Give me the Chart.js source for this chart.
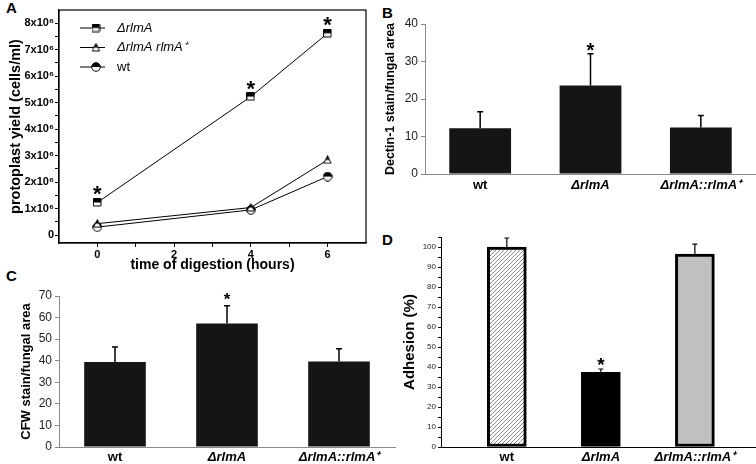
<!DOCTYPE html>
<html>
<head>
<meta charset="utf-8">
<script src="https://cdn.jsdelivr.net/npm/chart.js@4.4.0/dist/chart.umd.min.js"></script>
<style>
body { margin: 0; width: 756px; height: 464px; background: #fff; position: relative; overflow: hidden; font-family: "Liberation Sans", Arial, sans-serif; }
canvas { position: absolute; }
.panel { position: absolute; font-weight: bold; font-size: 15px; line-height: 15px; }
</style>
</head>
<body>
<div class="panel" style="left:6px;top:0px">A</div>
<div class="panel" style="left:382px;top:5px">B</div>
<div class="panel" style="left:6px;top:268px">C</div>
<div class="panel" style="left:382px;top:232px">D</div>
<canvas id="chartA" width="380" height="275" style="left:0;top:0"></canvas>
<canvas id="chartB" width="376" height="215" style="left:380px;top:0"></canvas>
<canvas id="chartC" width="400" height="194" style="left:0;top:270px"></canvas>
<canvas id="chartD" width="376" height="234" style="left:380px;top:230px"></canvas>
<script>
// Données
const hours = [0, 4, 6];
const seriesNames = ['ΔrlmA', 'ΔrlmA rlmA⁺', 'wt'];
const yieldMutant = [1.23e6, 5.23e6, 7.62e6];
const yieldComplemented = [0.43e6, 1.04e6, 2.84e6];
const yieldWt = [0.30e6, 0.95e6, 2.21e6];
const sigA = [true, true, true];

const strains = ['wt', 'ΔrlmA', 'ΔrlmA::rlmA⁺'];
const dectinMean = [12.2, 23.6, 12.4];
const dectinErr = [4.4, 8.5, 3.2];
const dectinSig = [false, true, false];

const cfwMean = [39.4, 57.3, 39.6];
const cfwErr = [7.0, 8.2, 5.9];
const cfwSig = [false, true, false];

const adhesionMean = [100, 37.3, 96.5];
const adhesionErr = [4.5, 1.7, 4.9];
const adhesionSig = [false, true, false];

Chart.defaults.font.family = '"Liberation Sans", Arial, sans-serif';
Chart.defaults.color = '#000';
Chart.defaults.animation = false;

// Marqueurs à moitié remplis
function marker(shape, size) {
    const c = document.createElement('canvas');
    c.width = size; c.height = size;
    const g = c.getContext('2d');
    const s = size - 1, h = size / 2;
    g.beginPath();
    if (shape === 'square') g.rect(0.5, 0.5, s - 0.5, s - 0.5);
    else if (shape === 'circle') g.arc(h, h, h - 0.7, 0, Math.PI * 2);
    else { g.moveTo(h, 0.5); g.lineTo(s, s); g.lineTo(0.5, s); g.closePath(); }
    g.fillStyle = '#fff'; g.fill();
    g.save(); g.clip();
    g.fillStyle = '#000'; g.fillRect(0, 0, size, h);
    g.restore();
    g.strokeStyle = '#000'; g.lineWidth = 1; g.stroke();
    return c;
}
const sq = marker('square', 9);
const tri = marker('triangle', 9);
const circ = marker('circle', 10);

// Boîte autour du graphique A
const boxA = {
    id: 'boxA',
    afterDraw(chart) {
        const { ctx, chartArea: a } = chart;
        ctx.save();
        ctx.strokeStyle = '#000';
        ctx.lineWidth = 1.2;
        ctx.strokeRect(a.left, a.top, a.right - a.left, a.bottom - a.top);
        ctx.restore();
    }
};

// Légende A
const legendA = {
    id: 'legendA',
    afterDraw(chart) {
        const ctx = chart.ctx;
        chart.data.datasets.forEach((ds, i) => {
            const y = 28 + i * 19.5;
            ctx.save();
            ctx.strokeStyle = '#000';
            ctx.lineWidth = 1;
            ctx.beginPath(); ctx.moveTo(80, y); ctx.lineTo(105, y); ctx.stroke();
            const img = ds.pointStyle;
            ctx.drawImage(img, 96 - img.width / 2, y - img.height / 2);
            ctx.fillStyle = '#000';
            ctx.font = (i < 2 ? 'italic ' : '') + '13px "Liberation Sans", Arial, sans-serif';
            ctx.textBaseline = 'middle';
            ctx.fillText(ds.label, 117, y);
            ctx.restore();
        });
    }
};

// Astérisques A
const starsA = {
    id: 'starsA',
    afterDatasetsDraw(chart) {
        const ctx = chart.ctx;
        chart.getDatasetMeta(0).data.forEach((pt, i) => {
            if (!sigA[i]) return;
            ctx.save();
            ctx.fillStyle = '#000';
            ctx.font = 'bold 22px "Liberation Sans", Arial, sans-serif';
            ctx.textAlign = 'center';
            ctx.textBaseline = 'alphabetic';
            ctx.fillText('*', pt.x, pt.y - 1);
            ctx.restore();
        });
    }
};

// Barres d'erreur + astérisques
const errorBars = {
    id: 'errorBars',
    afterDatasetsDraw(chart, args, o) {
        const ctx = chart.ctx, ys = chart.scales.y;
        chart.data.datasets.forEach((ds, di) => {
            if (!ds.errors) return;
            chart.getDatasetMeta(di).data.forEach((bar, i) => {
                const d = ds.data[i];
                const v = typeof d === 'object' ? d.y : d;
                const top = ys.getPixelForValue(v + ds.errors[i]);
                ctx.save();
                ctx.strokeStyle = o.color || '#000';
                ctx.lineWidth = o.width || 1.5;
                ctx.beginPath();
                ctx.moveTo(bar.x, bar.y);
                ctx.lineTo(bar.x, top);
                ctx.moveTo(bar.x - o.cap, top);
                ctx.lineTo(bar.x + o.cap, top);
                ctx.stroke();
                if (ds.sig && ds.sig[i]) {
                    ctx.fillStyle = '#000';
                    ctx.font = 'bold ' + o.starSize + 'px "Liberation Sans", Arial, sans-serif';
                    ctx.textAlign = 'center';
                    ctx.textBaseline = 'alphabetic';
                    ctx.fillText('*', bar.x, top - o.starGap + o.starSize * 0.62);
                }
                ctx.restore();
            });
        });
    }
};

const strainFont = (size) => (c) => ({
    size: size,
    weight: 'bold',
    style: c.index === 0 ? 'normal' : 'italic'
});

// A : rendement en protoplastes
new Chart(document.getElementById('chartA'), {
    type: 'line',
    data: {
        datasets: [
            { label: seriesNames[0], data: hours.map((h, i) => ({ x: h, y: yieldMutant[i] })), pointStyle: sq },
            { label: seriesNames[1], data: hours.map((h, i) => ({ x: h, y: yieldComplemented[i] })), pointStyle: tri },
            { label: seriesNames[2], data: hours.map((h, i) => ({ x: h, y: yieldWt[i] })), pointStyle: circ }
        ].map(ds => Object.assign(ds, { borderColor: '#000', borderWidth: 1, pointRadius: 5, tension: 0 }))
    },
    options: {
        responsive: false,
        layout: { padding: { top: 10, right: 14, left: 0, bottom: 0 } },
        plugins: { legend: { display: false }, tooltip: { enabled: false } },
        scales: {
            x: {
                type: 'linear', min: -1, max: 7,
                afterBuildTicks: s => { s.ticks = [0, 1, 2, 3, 4, 5, 6].map(v => ({ value: v })); },
                afterFit: s => { s.height = 32; },
                ticks: {
                    autoSkip: false, maxRotation: 0, padding: 1,
                    font: { size: 11, weight: 'bold' },
                    callback: v => v % 2 === 0 ? String(v) : ''
                },
                grid: { drawOnChartArea: false, tickLength: 4, color: '#000' },
                border: { color: '#000', width: 1.2 },
                title: { display: true, text: 'time of digestion (hours)', font: { size: 14, weight: 'bold' }, padding: { top: 0, bottom: 1 } }
            },
            y: {
                min: -0.3e6, max: 8.5e6,
                afterBuildTicks: s => {
                    const t = [];
                    for (let v = 0; v <= 8e6; v += 0.5e6) t.push({ value: v });
                    s.ticks = t;
                },
                afterFit: s => { s.width = 59; },
                ticks: {
                    autoSkip: false, padding: 1,
                    font: { size: 11, weight: 'bold' },
                    callback: v => v % 1e6 !== 0 ? '' : (v === 0 ? '0' : (v / 1e6) + 'x10⁶')
                },
                grid: { drawOnChartArea: false, tickLength: 4, color: '#000' },
                border: { color: '#000', width: 1.2 },
                title: { display: true, text: 'protoplast yield (cells/ml)', font: { size: 14.5, weight: 'bold' }, padding: { top: 7, bottom: 0 } }
            }
        }
    },
    plugins: [boxA, legendA, starsA]
});

// B : Dectin-1
new Chart(document.getElementById('chartB'), {
    type: 'bar',
    data: {
        labels: strains,
        datasets: [{
            data: dectinMean, errors: dectinErr, sig: dectinSig,
            backgroundColor: '#151515', barPercentage: 0.56, categoryPercentage: 1
        }]
    },
    options: {
        responsive: false,
        layout: { padding: { top: 24, right: 0, left: 0, bottom: 0 } },
        plugins: { legend: { display: false }, tooltip: { enabled: false }, errorBars: { cap: 3, width: 1.5, starSize: 20, starGap: 9 } },
        scales: {
            x: {
                afterFit: s => { s.height = 41; },
                ticks: { padding: 4, font: strainFont(13), maxRotation: 0 },
                grid: { display: false, drawTicks: false },
                border: { color: '#8a8a8a', width: 1 }
            },
            y: {
                min: 0, max: 40,
                afterFit: s => { s.width = 45; },
                ticks: { stepSize: 10, padding: 3, color: '#222', font: { size: 12 } },
                grid: { drawOnChartArea: false, tickLength: 4, color: '#8a8a8a' },
                border: { color: '#8a8a8a', width: 1 },
                title: { display: true, text: 'Dectin-1 stain/fungal area', font: { size: 12.5, weight: 'bold' }, padding: { top: 3, bottom: 0 } }
            }
        }
    },
    plugins: [errorBars]
});

// C : CFW
new Chart(document.getElementById('chartC'), {
    type: 'bar',
    data: {
        labels: strains,
        datasets: [{
            data: cfwMean, errors: cfwErr, sig: cfwSig,
            backgroundColor: '#151515', barPercentage: 0.55, categoryPercentage: 1
        }]
    },
    options: {
        responsive: false,
        layout: { padding: { top: 26, right: 5, left: 0, bottom: 0 } },
        plugins: { legend: { display: false }, tooltip: { enabled: false }, errorBars: { cap: 3, width: 1.5, starSize: 17, starGap: 11 } },
        scales: {
            x: {
                afterFit: s => { s.height = 17; },
                ticks: { padding: 3, font: strainFont(13), maxRotation: 0 },
                grid: { display: false, drawTicks: false },
                border: { color: '#8a8a8a', width: 1 }
            },
            y: {
                min: 0, max: 70,
                afterFit: s => { s.width = 59; },
                ticks: { stepSize: 10, padding: 3, color: '#222', font: { size: 12 } },
                grid: { drawOnChartArea: false, tickLength: 4, color: '#8a8a8a' },
                border: { color: '#8a8a8a', width: 1 },
                title: { display: true, text: 'CFW stain/fungal area', font: { size: 13, weight: 'bold' }, padding: { top: 19, bottom: 0 } }
            }
        }
    },
    plugins: [errorBars]
});

// D : adhésion
const ctxD = document.getElementById('chartD').getContext('2d');
const hatchTile = document.createElement('canvas');
hatchTile.width = 4; hatchTile.height = 4;
(function () {
    const g = hatchTile.getContext('2d');
    g.fillStyle = '#fff'; g.fillRect(0, 0, 4, 4);
    g.strokeStyle = '#8c8c8c'; g.lineWidth = 1;
    g.beginPath();
    g.moveTo(0, 4); g.lineTo(4, 0);
    g.moveTo(-1, 1); g.lineTo(1, -1);
    g.moveTo(3, 5); g.lineTo(5, 3);
    g.stroke();
})();
const hatch = ctxD.createPattern(hatchTile, 'repeat');

new Chart(ctxD, {
    type: 'bar',
    data: {
        datasets: [{
            data: adhesionMean.map((v, i) => ({ x: i, y: v })),
            errors: adhesionErr, sig: adhesionSig,
            backgroundColor: [hatch, '#000', '#c0c0c0'],
            borderColor: '#000', borderWidth: 3, borderSkipped: false,
            barThickness: 39
        }]
    },
    options: {
        responsive: false,
        layout: { padding: { top: 7, right: 0, left: 0, bottom: 0 } },
        plugins: { legend: { display: false }, tooltip: { enabled: false }, errorBars: { cap: 2.5, width: 1.2, starSize: 19, starGap: 10 } },
        scales: {
            x: {
                type: 'linear', min: -0.70, max: 2.65, offset: false,
                afterBuildTicks: s => { s.ticks = strains.map((c, i) => ({ value: i })); },
                afterFit: s => { s.height = 17; },
                ticks: { autoSkip: false, padding: 3, maxRotation: 0, font: strainFont(13), callback: v => strains[v] },
                grid: { display: false, drawTicks: false },
                border: { color: '#000', width: 1 }
            },
            y: {
                min: 0, max: 105,
                afterBuildTicks: s => {
                    const t = [];
                    for (let v = 0; v <= 105; v += 5) t.push({ value: v });
                    s.ticks = t;
                },
                afterFit: s => { s.width = 61; },
                ticks: { autoSkip: false, padding: 2, color: '#222', font: { size: 8 }, callback: v => v % 10 === 0 ? String(v) : '' },
                grid: { drawOnChartArea: false, tickLength: 3, color: '#000' },
                border: { color: '#000', width: 1 },
                title: { display: true, text: 'Adhesion (%)', font: { size: 15, weight: 'bold' }, padding: { top: 21, bottom: 0 } }
            }
        }
    },
    plugins: [errorBars]
});
</script>
</body>
</html>
